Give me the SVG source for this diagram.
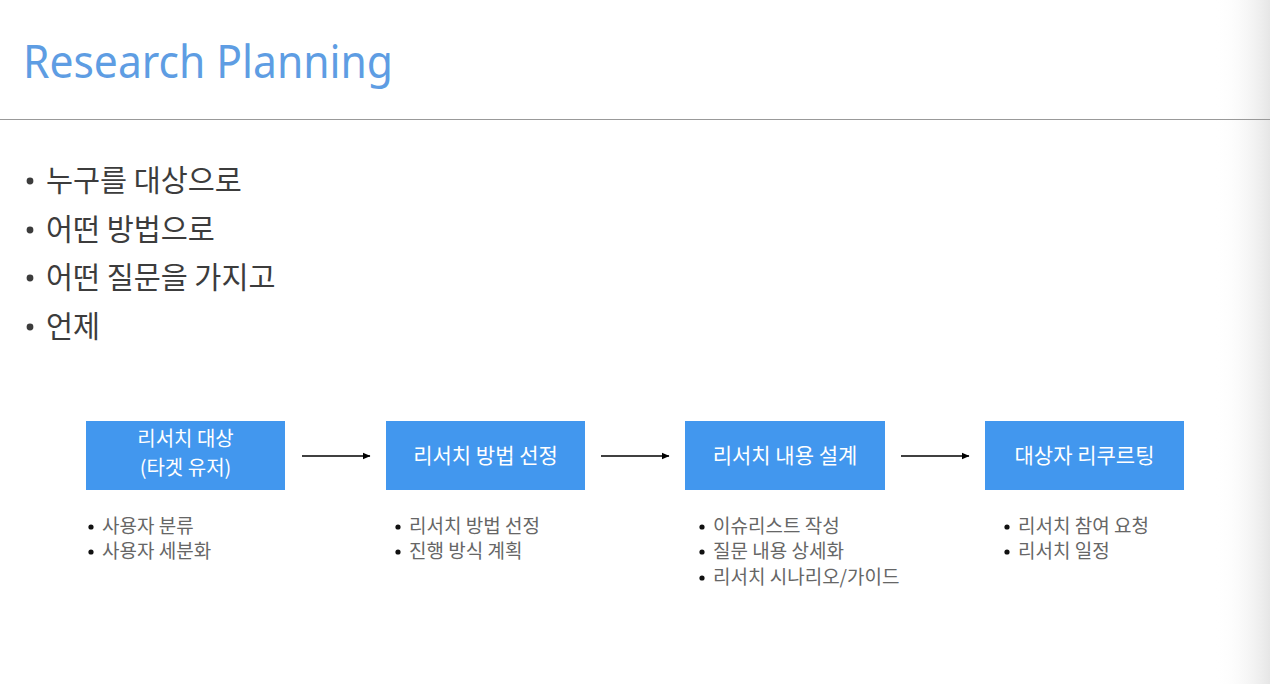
<svg xmlns="http://www.w3.org/2000/svg" width="1270" height="684" viewBox="0 0 1270 684">
<defs>
<style>
.title{font-family:"Noto Sans","Open Sans","Liberation Sans",sans-serif;font-size:46px;fill:#5e9de3}
.main{font-family:"Noto Sans CJK KR","Noto Sans",sans-serif;font-size:29.4px;fill:#3c3c3c}
.box{fill:#4297ee}
.btxt{font-family:"Noto Sans CJK KR","Noto Sans",sans-serif;font-size:21px;fill:#ffffff;text-anchor:middle}
.btxt2{font-family:"Noto Sans CJK KR","Noto Sans",sans-serif;font-size:20px;fill:#ffffff;text-anchor:middle}
.sub{font-family:"Noto Sans CJK KR","Noto Sans",sans-serif;font-size:19px;fill:#666666}
.dot{fill:#111111}
.conn{stroke:#000;stroke-width:1.3;fill:none;marker-end:url(#ah)}
</style>
<marker id="ah" markerWidth="8" markerHeight="8" refX="7" refY="4" orient="auto" markerUnits="userSpaceOnUse">
<path d="M0,0.8 L7.5,4 L0,7.2 Z" fill="#000"/>
</marker>
<linearGradient id="shade" x1="0" y1="0" x2="1" y2="0">
<stop offset="0" stop-color="#ffffff" stop-opacity="0"/>
<stop offset="1" stop-color="#e6e6e6" stop-opacity="1"/>
</linearGradient>
</defs>
<rect width="1270" height="684" fill="#ffffff"/>
<rect x="1215" y="0" width="55" height="684" fill="url(#shade)"/>
<text class="title" x="23" y="78" textLength="370" lengthAdjust="spacingAndGlyphs">Research Planning</text>
<line x1="0" y1="119.5" x2="1270" y2="119.5" stroke="#999999" stroke-width="1"/>
<g id="bullets">
<circle cx="30" cy="181" r="3.4" fill="#3c3c3c"/>
<text class="main" x="46" y="191">누구를 대상으로</text>
<circle cx="30" cy="230" r="3.4" fill="#3c3c3c"/>
<text class="main" x="46" y="240">어떤 방법으로</text>
<circle cx="30" cy="278" r="3.4" fill="#3c3c3c"/>
<text class="main" x="46" y="288">어떤 질문을 가지고</text>
<circle cx="30" cy="327" r="3.4" fill="#3c3c3c"/>
<text class="main" x="46" y="337">언제</text>
</g>
<g id="connectors">
<line class="conn" x1="302" y1="456" x2="370" y2="456"/>
<line class="conn" x1="601" y1="456" x2="669" y2="456"/>
<line class="conn" x1="901" y1="456" x2="969" y2="456"/>
</g>
<g id="node1">
<rect class="box" x="86" y="421" width="199" height="69"/>
<text class="btxt2" x="185.5" y="446">리서치 대상</text>
<text class="btxt2" x="185.5" y="475">(타겟 유저)</text>
<circle class="dot" cx="91" cy="527" r="2.6"/>
<text class="sub" x="102" y="533">사용자 분류</text>
<circle class="dot" cx="91" cy="552" r="2.6"/>
<text class="sub" x="102" y="558">사용자 세분화</text>
</g>
<g id="node2">
<rect class="box" x="386" y="421" width="199" height="69"/>
<text class="btxt" x="485.5" y="463">리서치 방법 선정</text>
<circle class="dot" cx="398" cy="527" r="2.6"/>
<text class="sub" x="409" y="533">리서치 방법 선정</text>
<circle class="dot" cx="398" cy="552" r="2.6"/>
<text class="sub" x="409" y="558">진행 방식 계획</text>
</g>
<g id="node3">
<rect class="box" x="685" y="421" width="200" height="69"/>
<text class="btxt" x="785" y="463">리서치 내용 설계</text>
<circle class="dot" cx="702" cy="527" r="2.6"/>
<text class="sub" x="713" y="533">이슈리스트 작성</text>
<circle class="dot" cx="702" cy="552" r="2.6"/>
<text class="sub" x="713" y="558">질문 내용 상세화</text>
<circle class="dot" cx="702" cy="578" r="2.6"/>
<text class="sub" x="713" y="584">리서치 시나리오/가이드</text>
</g>
<g id="node4">
<rect class="box" x="985" y="421" width="199" height="69"/>
<text class="btxt" x="1084.5" y="463">대상자 리쿠르팅</text>
<circle class="dot" cx="1007" cy="527" r="2.6"/>
<text class="sub" x="1018" y="533">리서치 참여 요청</text>
<circle class="dot" cx="1007" cy="552" r="2.6"/>
<text class="sub" x="1018" y="558">리서치 일정</text>
</g>
</svg>
